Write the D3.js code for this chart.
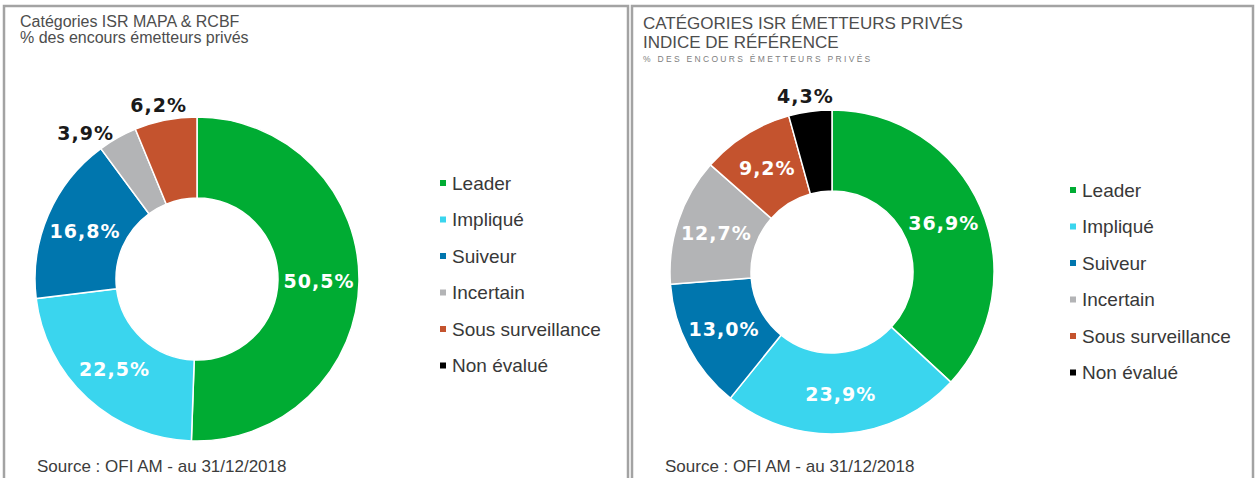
<!DOCTYPE html>
<html>
<head>
<meta charset="utf-8">
<script src="https://cdn.jsdelivr.net/npm/d3@7"></script>
<style>
  body { margin: 0; background: #fff; }
  svg text { font-family: "Liberation Sans", Arial, sans-serif; }
</style>
</head>
<body>
<script>
// categories shared by both donuts
const categories = ["Leader", "Impliqué", "Suiveur", "Incertain", "Sous surveillance", "Non évalué"];
const colors = ["#00ac33", "#3ad5ee", "#0076ae", "#b3b4b6", "#c4532e", "#000000"];

// % des encours émetteurs privés
const fundValues = [50.5, 22.5, 16.8, 3.9, 6.2, 0];
const indexValues = [36.9, 23.9, 13.0, 12.7, 9.2, 4.3];

const fundTitle = ["Catégories ISR MAPA & RCBF", "% des encours émetteurs privés"];
const indexTitle = ["CATÉGORIES ISR ÉMETTEURS PRIVÉS", "INDICE DE RÉFÉRENCE"];
const indexSubtitle = "% DES ENCOURS ÉMETTEURS PRIVÉS";
const sourceText = "Source : OFI AM - au 31/12/2018";

const width = 1257, height = 478;

let svg = d3.select("body").append("svg")
  .attr("width", width)
  .attr("height", height);

let color = d3.scaleOrdinal().domain(categories).range(colors);
let fmt = v => d3.format(".1f")(v).replace(".", ",") + "%";

/**
 * draws one framed panel: donut + legend + source
 */
function drawPanel(p) {
  let g = svg.append("g");

  // frame
  g.append("rect")
    .attr("x", p.x0).attr("y", 6)
    .attr("width", p.x1 - p.x0).attr("height", height)
    .attr("fill", "none")
    .attr("stroke", "#a3a3a3")
    .attr("stroke-width", 2.5);

  let data = categories.map((c, i) => ({name: c, value: p.values[i]}));

  let pie = d3.pie().sort(null).value(d => d.value);
  let arcs = pie(data).filter(d => d.data.value > 0);

  let rOut = 162, rIn = 81;
  let arc = d3.arc().innerRadius(rIn).outerRadius(rOut);
  let mid = d3.arc().innerRadius(122).outerRadius(122);

  let donut = g.append("g").attr("transform", `translate(${p.cx}, ${p.cy})`);

  donut.selectAll("path")
    .data(arcs)
    .join("path")
    .attr("d", arc)
    .attr("fill", d => color(d.data.name))
    .attr("stroke", "#fff")
    .attr("stroke-width", 1.5);

  // labels: inside in white, small slices outside in black
  donut.selectAll("text.val")
    .data(arcs)
    .join("text")
    .classed("val", true)
    .attr("transform", d => {
      if (d.data.value >= 7) return `translate(${mid.centroid(d)})`;
      let a = (d.startAngle + d.endAngle) / 2 + (p.shift[d.index] || 0);
      let r = rOut + 6;
      let x = Math.sin(a) * r + Math.sin(a) * 30;
      let y = -Math.cos(a) * r - Math.cos(a) * 9;
      return `translate(${x}, ${y})`;
    })
    .attr("text-anchor", "middle")
    .attr("dy", "0.36em")
    .style("font-family", "'DejaVu Sans', sans-serif")
    .style("font-weight", "bold")
    .style("font-size", "19px")
    .style("letter-spacing", "1px")
    .attr("fill", d => d.data.value >= 7 ? "#fff" : "#1a1a1a")
    .text(d => fmt(d.data.value));

  // legend
  let legend = g.selectAll(".legendItem")
    .data(categories)
    .join(enter => {
      let item = enter.append("g").classed("legendItem", true);
      item.append("rect")
        .attr("x", 0).attr("y", -3)
        .attr("width", 6).attr("height", 6)
        .attr("fill", d => color(d));
      item.append("text")
        .attr("x", 12)
        .attr("dy", "0.35em")
        .style("font-size", "19px")
        .attr("fill", "#383838")
        .text(d => d);
      return item;
    })
    .attr("transform", (d, i) => `translate(${p.lx}, ${p.ly + i * 36.5})`);

  // source
  g.append("text")
    .attr("x", p.x0 + p.srcDx).attr("y", 472)
    .style("font-size", "17px")
    .attr("fill", "#3c3c3c")
    .text(sourceText);

  return g;
}

let left = drawPanel({
  x0: 4, x1: 628, cx: 197, cy: 279, values: fundValues,
  lx: 440, ly: 183, srcDx: 33, shift: {3: -0.085}
});
left.selectAll(".title")
  .data(fundTitle)
  .join("text")
  .classed("title", true)
  .attr("x", 20)
  .attr("y", (d, i) => 27 + i * 16)
  .style("font-size", "16px")
  .attr("fill", "#4d4d4d")
  .text(d => d);

let right = drawPanel({
  x0: 632, x1: 1253, cx: 832, cy: 272, values: indexValues,
  lx: 1070, ly: 190, srcDx: 33, shift: {}
});
right.selectAll(".title")
  .data(indexTitle)
  .join("text")
  .classed("title", true)
  .attr("x", 643)
  .attr("y", (d, i) => 29 + i * 19)
  .style("font-size", "17px")
  .attr("fill", "#4d4d4d")
  .text(d => d);
right.append("text")
  .attr("x", 643).attr("y", 62)
  .style("font-size", "8.5px")
  .style("letter-spacing", "2.3px")
  .attr("fill", "#808080")
  .text(indexSubtitle);
</script>
</body>
</html>
